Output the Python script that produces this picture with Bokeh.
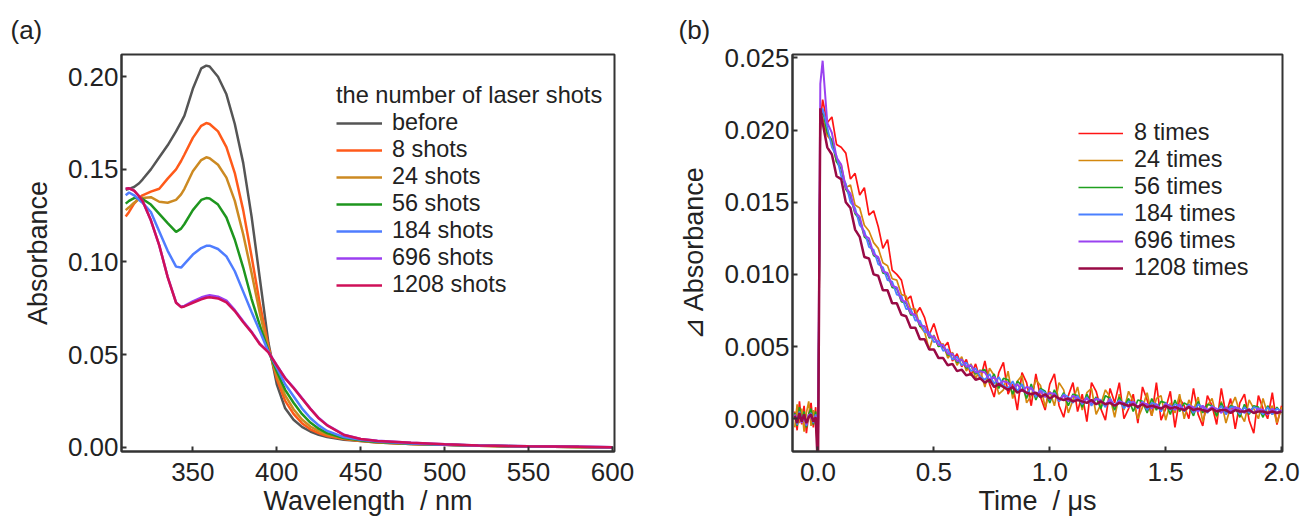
import numpy as np
from bokeh.plotting import figure
from bokeh.models import Range1d, FixedTicker, NumeralTickFormatter, Legend, LegendItem
from bokeh.layouts import row
from bokeh.embed import file_html
from bokeh.resources import INLINE

FONT = "Liberation Sans"
INK = "#222222"
FRAME = "#333333"

# ---------------- (a) absorption spectra ----------------
WAVELENGTH = [310, 312, 315, 318, 320, 325, 330, 335, 340, 343, 345, 350, 355, 358, 360,
              365, 370, 375, 380, 385, 390, 395, 400, 405, 410, 415, 420, 425, 430, 440,
              450, 460, 480, 500, 520, 550, 580, 600]

ABS_BEFORE = [0.1390, 0.1395, 0.1405, 0.1425, 0.1445, 0.1500, 0.1565, 0.1630, 0.1705, 0.1755,
              0.1790, 0.1935, 0.2045, 0.2060, 0.2055, 0.2000, 0.1905, 0.1745, 0.1535, 0.1245,
              0.0905, 0.0565, 0.0340, 0.0210, 0.0148, 0.0110, 0.0085, 0.0067, 0.0055, 0.0041,
              0.0033, 0.0026, 0.0018, 0.0013, 0.0008, 0.0004, 0.0001, 0.0000]
ABS_8 = [0.1245, 0.1270, 0.1315, 0.1345, 0.1360, 0.1380, 0.1395, 0.1450, 0.1500, 0.1545,
         0.1580, 0.1670, 0.1735, 0.1750, 0.1745, 0.1705, 0.1620, 0.1480, 0.1280, 0.1030,
         0.0770, 0.0545, 0.0370, 0.0250, 0.0180, 0.0130, 0.0097, 0.0076, 0.0061, 0.0044,
         0.0034, 0.0026, 0.0018, 0.0013, 0.0008, 0.0004, 0.0001, 0.0000]
ABS_24 = [0.1280, 0.1295, 0.1320, 0.1340, 0.1345, 0.1350, 0.1325, 0.1320, 0.1335, 0.1365,
          0.1395, 0.1490, 0.1550, 0.1565, 0.1560, 0.1525, 0.1455, 0.1330, 0.1150, 0.0940,
          0.0720, 0.0530, 0.0390, 0.0280, 0.0205, 0.0150, 0.0112, 0.0087, 0.0069, 0.0047,
          0.0036, 0.0027, 0.0018, 0.0013, 0.0008, 0.0004, 0.0001, 0.0000]
ABS_56 = [0.1315, 0.1330, 0.1345, 0.1345, 0.1340, 0.1310, 0.1260, 0.1210, 0.1162, 0.1180,
          0.1205, 0.1280, 0.1335, 0.1345, 0.1343, 0.1310, 0.1240, 0.1120, 0.0970, 0.0800,
          0.0655, 0.0520, 0.0410, 0.0310, 0.0240, 0.0180, 0.0133, 0.0100, 0.0076, 0.0050,
          0.0037, 0.0028, 0.0019, 0.0013, 0.0009, 0.0004, 0.0001, 0.0000]
ABS_184 = [0.1360, 0.1375, 0.1360, 0.1335, 0.1320, 0.1270, 0.1164, 0.1060, 0.0975, 0.0970,
           0.0990, 0.1040, 0.1075, 0.1087, 0.1088, 0.1070, 0.1030, 0.0950, 0.0840, 0.0730,
           0.0625, 0.0515, 0.0430, 0.0340, 0.0275, 0.0210, 0.0158, 0.0118, 0.0088, 0.0055,
           0.0040, 0.0031, 0.0020, 0.0014, 0.0009, 0.0005, 0.0002, 0.0000]
ABS_696 = [0.1395, 0.1398, 0.1385, 0.1355, 0.1330, 0.1225, 0.1090, 0.0920, 0.0782, 0.0758,
           0.0763, 0.0787, 0.0808, 0.0817, 0.0820, 0.0813, 0.0792, 0.0740, 0.0680, 0.0623,
           0.0558, 0.0515, 0.0443, 0.0374, 0.0322, 0.0265, 0.0209, 0.0158, 0.0120, 0.0068,
           0.0045, 0.0035, 0.0024, 0.0016, 0.0010, 0.0005, 0.0002, 0.0000]
ABS_1208 = [0.1395, 0.1398, 0.1385, 0.1355, 0.1330, 0.1225, 0.1090, 0.0918, 0.0780, 0.0756,
            0.0760, 0.0780, 0.0798, 0.0807, 0.0810, 0.0803, 0.0782, 0.0735, 0.0675, 0.0620,
            0.0555, 0.0512, 0.0441, 0.0372, 0.0320, 0.0263, 0.0207, 0.0156, 0.0118, 0.0066,
            0.0044, 0.0034, 0.0024, 0.0016, 0.0010, 0.0005, 0.0002, 0.0000]

SPEC_SERIES = [ABS_BEFORE, ABS_8, ABS_24, ABS_56, ABS_184, ABS_696, ABS_1208]
SPEC_LABELS = ["before", "8 shots", "24 shots", "56 shots", "184 shots", "696 shots", "1208 shots"]
SPEC_COLORS = ["#555555", "#FF5A1A", "#CC8A22", "#1E961E", "#4F7DFF", "#9B3FF0", "#CF1058"]
SPEC_TITLE = "the number of laser shots"
SPEC_XTICKS = [350, 400, 450, 500, 550, 600]
SPEC_YTICKS = [0.00, 0.05, 0.10, 0.15, 0.20]

# ---------------- (b) transient absorption (values in units of 1e-4) ----------------
TIME_PRE = [-0.10, -0.09, -0.08, -0.07, -0.06, -0.05, -0.04, -0.03, -0.02, -0.01, 0.00, 0.01]
TIME_MAIN = np.round(np.arange(1, 101) * 0.02, 3)
TIME = np.concatenate([np.array(TIME_PRE), TIME_MAIN])

DA_8 = [5, -8, 12, -4, 9, -10, 3, 11, -6, 8, -30, 205,
        221, 205, 209, 190, 188, 184, 166, 170, 155, 160,
        141, 144, 133, 118, 124, 103, 100, 96, 82, 85,
        72, 77, 70, 58, 66, 55, 49, 53, 40, 45,
        36, 41, 30, 38, 27, 40, 24, 15, 32, 39,
        17, 24, 6, 32, 25, 9, 31, 15, 6, 24,
        31, 9, 1, 16, 25, 5, 17, -2, 25, 19,
        7, -1, 21, 11, 25, 0, 7, 17, -3, 22,
        13, 2, 25, -1, 7, 19, -6, 14, 9, 0,
        21, 3, -5, 16, 9, -4, 21, 3, 14, -7,
        11, 17, -1, -10, 16, 7, 0, 18, -4, 9]
DA_24 = [-6, 10, -3, 7, -9, 4, 12, -5, 6, -2, -25, 200,
         208, 196, 192, 178, 176, 160, 162, 148, 146, 134,
         130, 122, 118, 108, 106, 97, 96, 86, 85, 76,
         76, 64, 60, 48, 58, 50, 52, 42, 46, 37,
         43, 33, 38, 28, 34, 22, 35, 30, 17, 20,
         33, 14, 26, 30, 11, 16, 27, 23, 8, 19,
         9, 25, 20, 4, 13, 22, 6, 18, 21, 3,
         10, 20, 15, 1, 17, 6, 19, 12, 0, 8,
         18, 2, 14, 16, -1, 11, 4, 17, 0, 13,
         6, 15, -2, 9, 14, 1, 12, -3, 8, 15,
         4, -2, 13, 7, 0, 14, 3, 9, -3, 8]
DA_56 = [4, -5, 8, -2, 5, -6, 3, 7, -4, 5, -20, 205,
         214, 198, 193, 178, 173, 159, 154, 142, 138, 126,
         123, 113, 111, 101, 100, 91, 90, 81, 80, 72,
         72, 64, 64, 56, 57, 50, 51, 44, 45, 39,
         41, 35, 37, 31, 33, 34, 25, 31, 21, 28,
         27, 17, 26, 23, 14, 24, 13, 21, 19, 11,
         20, 12, 18, 9, 17, 16, 8, 17, 10, 15,
         7, 16, 14, 6, 15, 8, 14, 5, 13, 12,
         4, 14, 6, 12, 11, 3, 13, 5, 11, 9,
         2, 12, 4, 10, 9, 2, 11, 4, 9, 8,
         1, 10, 3, 9, 8, 1, 9, 3, 8, 4]
DA_184 = [2, -4, 5, -1, 3, -5, 2, 4, -3, 3, -18, 208,
          215, 202, 188, 182, 168, 163, 150, 146, 134, 130,
          119, 117, 107, 105, 96, 95, 86, 85, 76, 76,
          68, 68, 60, 60, 53, 54, 47, 48, 41, 43,
          37, 39, 33, 35, 29, 27, 31, 24, 29, 23,
          21, 26, 19, 24, 17, 22, 15, 20, 18, 13,
          18, 12, 17, 15, 11, 16, 10, 15, 9, 14,
          13, 8, 14, 9, 13, 7, 12, 11, 7, 12,
          6, 11, 10, 5, 11, 6, 10, 9, 5, 10,
          4, 10, 8, 4, 9, 5, 9, 3, 8, 8,
          3, 8, 4, 8, 7, 3, 8, 3, 7, 5]
DA_696 = [3, -2, 4, -3, 2, -4, 3, 1, -2, 2, -15, 232,
          248, 205, 198, 181, 176, 160, 156, 143, 140, 127,
          125, 114, 112, 102, 101, 92, 91, 82, 81, 73,
          72, 65, 64, 57, 57, 51, 51, 45, 45, 40,
          41, 36, 37, 32, 33, 32, 27, 29, 24, 26,
          25, 21, 24, 19, 22, 21, 17, 19, 15, 18,
          17, 13, 16, 12, 16, 14, 11, 14, 11, 14,
          12, 10, 13, 9, 12, 11, 8, 12, 8, 11,
          10, 7, 10, 7, 10, 9, 6, 10, 6, 9,
          8, 5, 9, 6, 8, 7, 4, 8, 5, 8,
          7, 4, 7, 4, 7, 6, 3, 7, 4, 6]
DA_1208 = [2, -3, 4, -2, 3, -3, 1, 3, -2, 1, -35, 215,
           205, 188, 183, 168, 166, 150, 146, 131, 126, 112,
           111, 100, 99, 89, 89, 80, 80, 72, 71, 63,
           63, 55, 55, 48, 48, 42, 42, 37, 38, 33,
           34, 30, 31, 27, 28, 25, 27, 22, 24, 22,
           20, 22, 18, 20, 18, 17, 18, 15, 17, 14,
           16, 14, 13, 14, 12, 13, 12, 11, 13, 10,
           12, 10, 11, 9, 11, 10, 9, 10, 8, 10,
           8, 9, 8, 7, 9, 7, 8, 7, 6, 8,
           6, 7, 6, 5, 7, 5, 6, 6, 4, 6,
           5, 5, 6, 4, 5, 5, 4, 5, 4, 5]

TA_SERIES = [DA_8, DA_24, DA_56, DA_184, DA_696, DA_1208]
TA_LABELS = ["8 times", "24 times", "56 times", "184 times", "696 times", "1208 times"]
TA_COLORS = ["#FF1414", "#D4880E", "#1FA01F", "#4A80FF", "#9A42F0", "#990A45"]
TA_WIDTHS = [1.7, 1.7, 1.7, 1.8, 2.0, 2.5]
TA_XTICKS = [0.0, 0.5, 1.0, 1.5, 2.0]
TA_YTICKS = [0.000, 0.005, 0.010, 0.015, 0.020, 0.025]


def style(p, xlabel, ylabel, xfmt, yfmt, xticks, yticks):
    p.xgrid.visible = False
    p.ygrid.visible = False
    p.background_fill_color = "white"
    p.border_fill_color = "white"
    p.outline_line_color = FRAME
    p.outline_line_width = 2
    p.outline_line_alpha = 1
    p.xaxis.axis_label = xlabel
    p.yaxis.axis_label = ylabel
    p.xaxis.ticker = FixedTicker(ticks=xticks)
    p.yaxis.ticker = FixedTicker(ticks=yticks)
    p.xaxis.formatter = NumeralTickFormatter(format=xfmt)
    p.yaxis.formatter = NumeralTickFormatter(format=yfmt)
    for ax in (p.xaxis[0], p.yaxis[0]):
        ax.axis_line_color = FRAME
        ax.axis_line_width = 2
        ax.major_tick_in = 5
        ax.major_tick_out = 0
        ax.major_tick_line_color = FRAME
        ax.major_tick_line_width = 2
        ax.minor_tick_in = 0
        ax.minor_tick_out = 0
        ax.minor_tick_line_color = None
        ax.major_label_text_font = FONT
        ax.major_label_text_font_size = "26px"
        ax.major_label_text_color = INK
        ax.axis_label_text_font = FONT
        ax.axis_label_text_font_size = "27px"
        ax.axis_label_text_font_style = "normal"
        ax.axis_label_text_color = INK
    p.xaxis.major_label_standoff = 11
    p.xaxis.axis_label_standoff = 2
    p.yaxis.major_label_standoff = 3
    p.yaxis.axis_label_standoff = 12


def panel_title(p, text, offset):
    p.title.text = text
    p.title.align = "left"
    p.title.offset = offset
    p.title.text_font = FONT
    p.title.text_font_size = "26px"
    p.title.text_font_style = "normal"
    p.title.text_color = INK
    p.title.standoff = 20


def make_legend(items, loc, glyph_w, standoff, title=None):
    kw = dict(items=items, location=loc, glyph_width=glyph_w, glyph_height=20,
              label_standoff=standoff, spacing=0, padding=0, margin=0,
              border_line_alpha=0, background_fill_alpha=0,
              label_text_font=FONT, label_text_font_size="23.4px", label_text_color=INK,
              label_height=20)
    if title is not None:
        kw.update(title=title, title_text_font=FONT, title_text_font_size="23.6px",
                  title_text_font_style="normal", title_text_color=INK, title_standoff=0)
    return Legend(**kw)


# ---- panel (a)
p1 = figure(width=660, height=518, x_range=Range1d(307.5, 601.2), y_range=Range1d(-0.0023, 0.2120),
            output_backend="svg", toolbar_location=None,
            min_border_left=121, min_border_right=46, min_border_top=54, min_border_bottom=67)
style(p1, "Wavelength\u00a0 / nm", "Absorbance", "0", "0.00", SPEC_XTICKS, SPEC_YTICKS)
panel_title(p1, "(a)", -111)

items1 = []
for ys, lab, col in zip(SPEC_SERIES, SPEC_LABELS, SPEC_COLORS):
    r = p1.line(WAVELENGTH, ys, line_color=col, line_width=2.5)
    items1.append(LegendItem(label=lab, renderers=[r]))
p1.add_layout(make_legend(items1, (215, 153), 46, 10, SPEC_TITLE))

# ---- panel (b)
p2 = figure(width=643, height=518, x_range=Range1d(-0.11, 2.004), y_range=Range1d(-0.00227, 0.02523),
            output_backend="svg", toolbar_location=None,
            min_border_left=132, min_border_right=21, min_border_top=54, min_border_bottom=67)
style(p2, "Time\u00a0 / \u03bcs", "\u22bf Absorbance", "0.0", "0.000", TA_XTICKS, TA_YTICKS)
panel_title(p2, "(b)", -114)

items2 = []
for ys, lab, col, w in zip(TA_SERIES, TA_LABELS, TA_COLORS, TA_WIDTHS):
    r = p2.line(TIME, np.array(ys) * 1e-4, line_color=col, line_width=w)
    items2.append(LegendItem(label=lab, renderers=[r]))
p2.add_layout(make_legend(items2, (286, 170), 45, 11))

layout = row(p1, p2)
with open("out.html", "w") as f:
    f.write(file_html(layout, INLINE))
